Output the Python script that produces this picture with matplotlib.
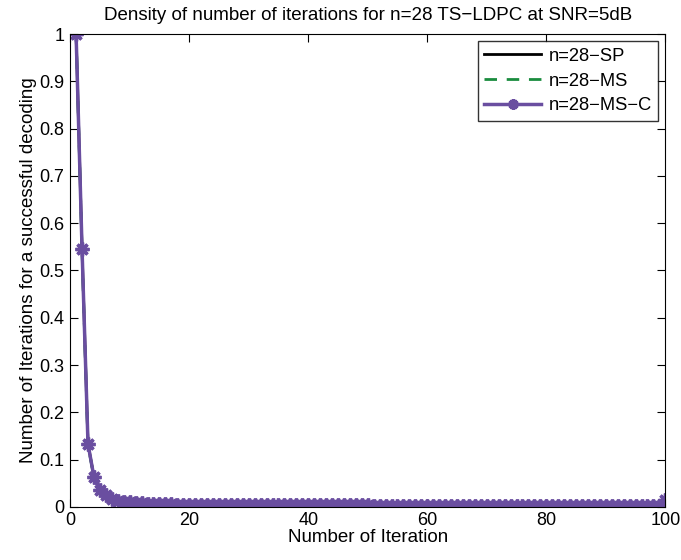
import matplotlib.pyplot as plt

plt.rcParams['font.family'] = ['Liberation Sans', 'DejaVu Sans']

iterations = list(range(1, 101))

# first ten iterations for each decoder
sp_head = [1.0, 0.545, 0.133, 0.063, 0.036, 0.024, 0.017, 0.013, 0.011, 0.0095]
ms_head = [1.0, 0.540, 0.130, 0.062, 0.035, 0.024, 0.017, 0.013, 0.011, 0.0095]
msc_head = [1.0, 0.545, 0.133, 0.063, 0.036, 0.024, 0.017, 0.013, 0.011, 0.0095]

# iterations 11..99 (shared)
tail = [
    0.0080, 0.0070, 0.0065, 0.0060, 0.0056, 0.0052, 0.0049, 0.0046, 0.0044, 0.0042,
    0.0040, 0.0039, 0.0038, 0.0037, 0.0036, 0.0035, 0.0034, 0.0034, 0.0033, 0.0033,
    0.0032, 0.0032, 0.0031, 0.0031, 0.0030, 0.0030, 0.0030, 0.0029, 0.0029, 0.0029,
    0.0028, 0.0028, 0.0028, 0.0028, 0.0028, 0.0028, 0.0028, 0.0028, 0.0028, 0.0028,
    0.0027, 0.0027, 0.0027, 0.0027, 0.0027, 0.0027, 0.0027, 0.0027, 0.0027, 0.0027,
    0.0026, 0.0026, 0.0026, 0.0026, 0.0026, 0.0026, 0.0026, 0.0026, 0.0026, 0.0026,
    0.0025, 0.0025, 0.0025, 0.0025, 0.0025, 0.0025, 0.0025, 0.0025, 0.0025, 0.0025,
    0.0025, 0.0025, 0.0025, 0.0025, 0.0025, 0.0025, 0.0025, 0.0025, 0.0025, 0.0025,
    0.0024, 0.0024, 0.0024, 0.0024, 0.0024, 0.0024, 0.0024, 0.0024, 0.0024,
]
last = [0.015]

sp = sp_head + tail + last
ms = ms_head + tail + last
msc = msc_head + tail + last

fig = plt.figure(figsize=(6.81, 5.6), dpi=100)
ax = fig.add_axes([0.103, 0.095, 0.874, 0.844])

ax.plot(iterations, sp, color='black', lw=2, label='n=28\u2212SP')
ax.plot(iterations, ms, color='#1a8c3e', lw=2, ls=(0, (4.5, 3.5)), label='n=28\u2212MS')
ax.plot(iterations, msc, color='#6a4ea0', lw=2.5, marker=(8, 2, 0), ms=10, mew=2.4,
        label='n=28\u2212MS\u2212C')

ax.set_xlim(0, 100)
ax.set_ylim(0, 1)
ax.set_xticks([0, 20, 40, 60, 80, 100])
ax.set_yticks([i / 10 for i in range(11)])
ax.set_yticklabels(['0', '0.1', '0.2', '0.3', '0.4', '0.5', '0.6', '0.7', '0.8', '0.9', '1'])
ax.tick_params(direction='in', top=True, right=True, labelsize=13, length=6, pad=4)

ax.set_xlabel('Number of Iteration', fontsize=13.5, labelpad=0)
ax.set_ylabel('Number of Iterations for a successful decoding', fontsize=13.5, labelpad=2)
ax.set_title('Density of number of iterations for n=28 TS\u2212LDPC at SNR=5dB', fontsize=13.5, pad=10)

leg = ax.legend(loc='upper right', fontsize=13.2, fancybox=False, edgecolor='black',
                handlelength=3.1, borderaxespad=0.4, labelspacing=0.42,
                borderpad=0.35, handletextpad=0.4, markerscale=0.75)
leg.get_frame().set_linewidth(1)

fig.savefig('out.png', dpi=100)
